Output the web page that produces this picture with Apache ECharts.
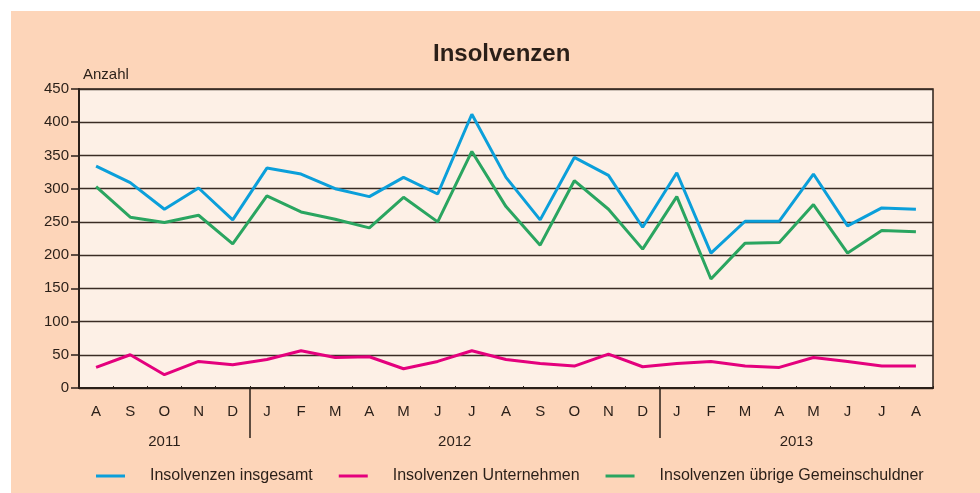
<!DOCTYPE html>
<html>
<head>
<meta charset="utf-8">
<title>Insolvenzen</title>
<script src="https://cdn.jsdelivr.net/npm/echarts@6/dist/echarts.min.js"></script>
<style>
  html, body { margin: 0; padding: 0; background: #ffffff; }
  #chart { position: absolute; left: 11px; top: 11px; width: 969px; height: 482px; }
</style>
</head>
<body>
<div id="chart"></div>
<script>
  // Monate Aug 2011 - Aug 2013
  var months = ['A', 'S', 'O', 'N', 'D',
    'J', 'F', 'M', 'A', 'M', 'J', 'J', 'A', 'S', 'O', 'N', 'D',
    'J', 'F', 'M', 'A', 'M', 'J', 'J', 'A'];
  var years = ['2011', '2012', '2013'];
  var monthsPerYear = [5, 12, 8];

  var insgesamt = [334, 309, 269, 301, 253,
    331, 322, 300, 288, 317, 292, 412, 317, 253, 347, 320, 242,
    324, 203, 251, 251, 322, 244, 271, 269];
  var unternehmen = [31, 50, 20, 40, 35,
    43, 56, 46, 47, 29, 40, 56, 43, 37, 33, 51, 32,
    37, 40, 33, 31, 46, 40, 33, 33];
  var uebrige = [303, 257, 249, 260, 217,
    289, 265, 254, 241, 287, 250, 356, 273, 215, 312, 269, 209,
    288, 164, 218, 219, 276, 203, 237, 235];

  var yTicks = [0, 50, 100, 150, 200, 250, 300, 350, 400, 450];

  // Jahresgrenzen und -mitten auf einer 0..25 Skala
  var yearBounds = [];
  var yearCenters = [];
  var acc = 0;
  for (var i = 0; i < monthsPerYear.length; i++) {
    yearCenters.push(acc + monthsPerYear[i] / 2);
    acc += monthsPerYear[i];
    if (i < monthsPerYear.length - 1) yearBounds.push(acc);
  }

  var dark = '#2a1f18';
  var font = "'Liberation Sans', Arial, sans-serif";

  var chart = echarts.init(document.getElementById('chart'));

  var option = {
    backgroundColor: '#fdd5b9',
    animation: false,
    textStyle: { fontFamily: font, color: dark },
    title: {
      text: 'Insolvenzen',
      left: 417,
      top: 26,
      textStyle: { fontSize: 24, fontWeight: 'bold', color: dark, fontFamily: font }
    },
    legend: {
      left: 80,
      top: 452,
      icon: 'rect',
      itemWidth: 29,
      itemHeight: 3,
      itemGap: 26,
      textStyle: { fontSize: 16, color: dark, fontFamily: font, padding: [0, 0, 0, 20] },
      data: ['Insolvenzen insgesamt', 'Insolvenzen Unternehmen', 'Insolvenzen übrige Gemeinschuldner']
    },
    grid: {
      left: 68,
      top: 78,
      right: 47,
      bottom: 105,
      show: true,
      backgroundColor: '#fdf0e6',
      borderColor: dark,
      borderWidth: 1.5
    },
    xAxis: [
      {
        type: 'category',
        data: months,
        boundaryGap: true,
        axisLine: { lineStyle: { color: dark, width: 2 } },
        axisTick: { show: true, inside: true, length: 2, lineStyle: { color: dark } },
        axisLabel: { fontSize: 15, color: dark, margin: 16, fontFamily: font },
        splitLine: { show: false }
      },
      {
        // Jahreszeile mit Trennstrichen
        type: 'value',
        min: 0,
        max: months.length,
        position: 'bottom',
        axisLine: { show: false },
        axisTick: {
          show: true,
          length: 50,
          customValues: yearBounds,
          lineStyle: { color: dark, width: 1.5 }
        },
        axisLabel: {
          fontSize: 15,
          color: dark,
          margin: 46,
          fontFamily: font,
          customValues: yearCenters,
          formatter: function (v) {
            var k = yearCenters.indexOf(v);
            return k >= 0 ? years[k] : '';
          }
        },
        splitLine: { show: false }
      }
    ],
    yAxis: {
      type: 'value',
      min: yTicks[0],
      max: yTicks[yTicks.length - 1],
      interval: 50,
      name: 'Anzahl',
      nameLocation: 'end',
      nameGap: 7,
      nameTextStyle: { fontSize: 15, color: dark, align: 'left', padding: [0, 0, 0, 4], fontFamily: font },
      axisLine: { show: true, lineStyle: { color: dark, width: 2 } },
      axisTick: { show: true, length: 8, lineStyle: { color: dark, width: 1.5 } },
      axisLabel: { fontSize: 15, color: dark, margin: 10, fontFamily: font },
      splitLine: { show: true, lineStyle: { color: '#3a2c24', width: 1.3 } }
    },
    series: [
      {
        name: 'Insolvenzen insgesamt',
        type: 'line',
        data: insgesamt,
        symbol: 'none',
        color: '#0b9fda',
        lineStyle: { width: 3, color: '#0b9fda' }
      },
      {
        name: 'Insolvenzen Unternehmen',
        type: 'line',
        data: unternehmen,
        symbol: 'none',
        color: '#e4007d',
        lineStyle: { width: 3, color: '#e4007d' }
      },
      {
        name: 'Insolvenzen übrige Gemeinschuldner',
        type: 'line',
        data: uebrige,
        symbol: 'none',
        color: '#2aa560',
        lineStyle: { width: 3, color: '#2aa560' }
      }
    ]
  };

  chart.setOption(option);
</script>
</body>
</html>
